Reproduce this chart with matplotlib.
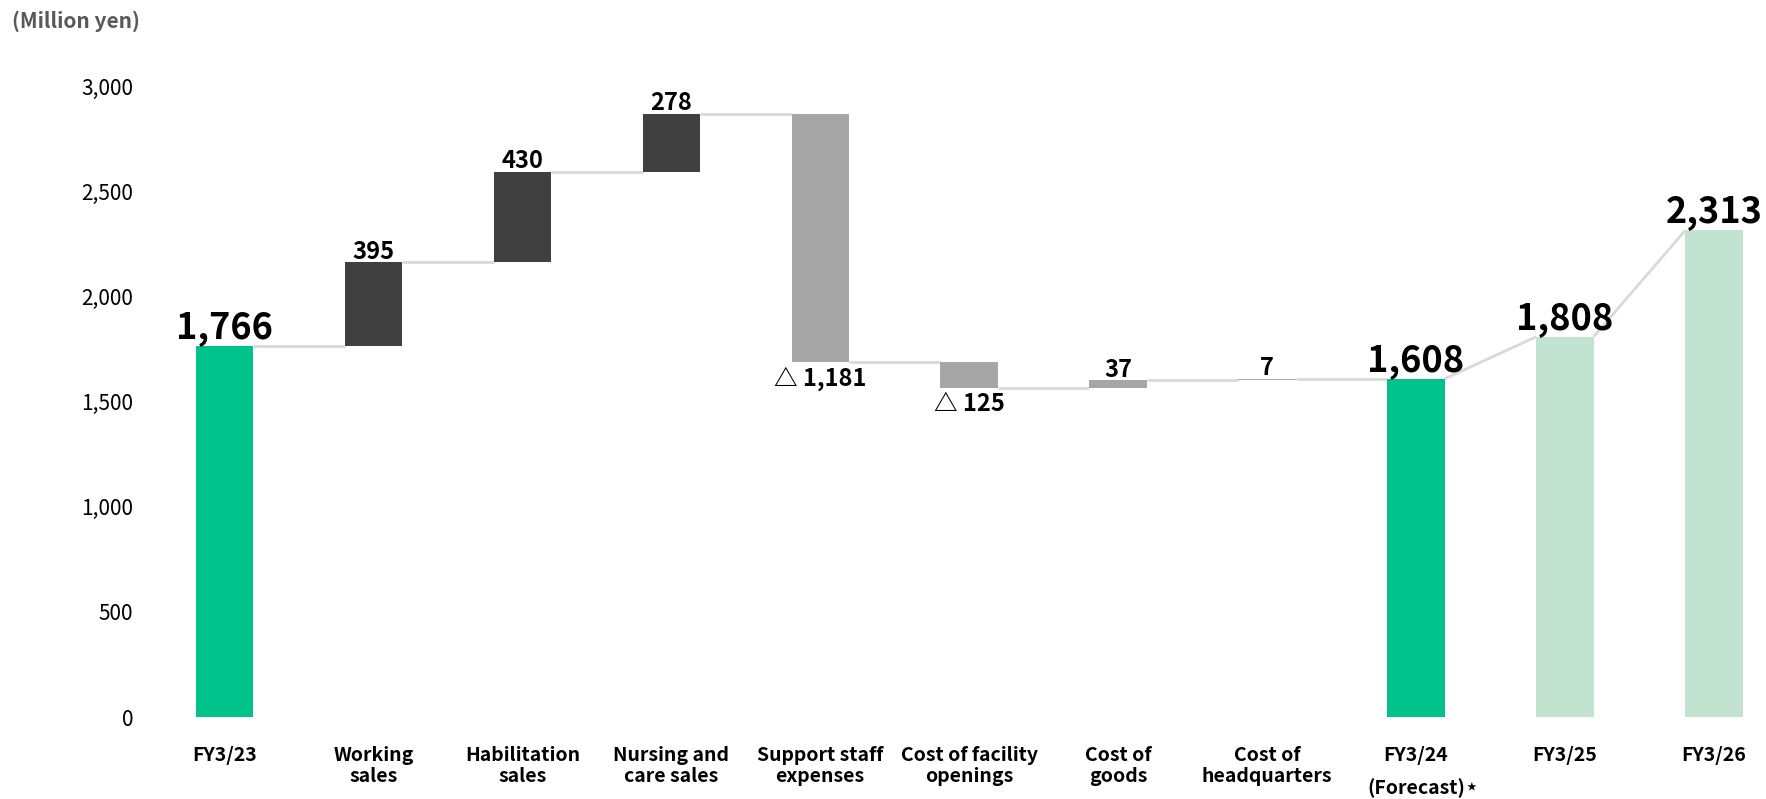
# coding: utf-8

import matplotlib
matplotlib.use('Agg')
import matplotlib.pyplot as plt
import matplotlib.transforms as mtransforms

plt.rcParams['font.family'] = ['Noto Sans CJK JP', 'DejaVu Sans']

categories = ['FY3/23', 'Working\nsales', 'Habilitation\nsales', 'Nursing and\ncare sales',
              'Support staff\nexpenses', 'Cost of facility\nopenings', 'Cost of\ngoods',
              'Cost of\nheadquarters', 'FY3/24', 'FY3/25', 'FY3/26']
values = [1766, 395, 430, 278, -1181, -125, 37, 7, 1608, 1808, 2313]
kinds = ['total', 'up', 'up', 'up', 'down', 'down', 'cost', 'cost', 'total', 'plan', 'plan']

GREEN = '#00c38c'
LIGHT_GREEN = '#c2e3d0'
DARK = '#404040'
GRAY = '#a6a6a6'
LINE = '#d9d9d9'
colors = {'total': GREEN, 'plan': LIGHT_GREEN, 'up': DARK, 'down': GRAY, 'cost': GRAY}


def main():
    fig = plt.figure(figsize=(17.66, 7.99), dpi=100)
    ax = fig.add_axes([150 / 1766, 82 / 799, 1 - 150 / 1766, 631 / 799])

    width = 0.385
    bottoms, tops = [], []
    running = 0
    for v, k in zip(values, kinds):
        if k in ('total', 'plan'):
            b, t = 0, v
            running = v
        else:
            b = running
            running += v
            t = running
        bottoms.append(min(b, t))
        tops.append(max(b, t))

    for i, (v, k) in enumerate(zip(values, kinds)):
        ax.bar(i, tops[i] - bottoms[i], bottom=bottoms[i], width=width,
               color=colors[k], zorder=3)

    # connectors between neighbouring bars
    for i in range(len(values) - 1):
        if kinds[i + 1] == 'plan':
            y0 = tops[i]
            y1 = tops[i + 1]
        else:
            y0 = tops[i] if (values[i] > 0 or kinds[i] == 'total') else bottoms[i]
            y1 = y0
        ax.plot([i + width / 2, i + 1 - width / 2], [y0, y1], color=LINE, lw=2, zorder=2,
                solid_capstyle='butt')

    # value labels
    for i, (v, k) in enumerate(zip(values, kinds)):
        if k in ('total', 'plan'):
            ax.annotate(f'{v:,}', (i, tops[i]), xytext=(0, 0), textcoords='offset points',
                        ha='center', va='bottom', fontsize=26, fontweight='bold')
        elif v < 0:
            ax.annotate(f'△ {abs(v):,}', (i, bottoms[i]), xytext=(0, -3), textcoords='offset points',
                        ha='center', va='top', fontsize=17, fontweight='bold')
        else:
            ax.annotate(f'{v:,}', (i, tops[i]), xytext=(0, -1), textcoords='offset points',
                        ha='center', va='bottom', fontsize=17, fontweight='bold')

    trans = mtransforms.blended_transform_factory(ax.transData, fig.transFigure)
    for i, c in enumerate(categories):
        ax.text(i, 1 - 746 / 799, c, transform=trans, ha='center', va='top',
                fontsize=14, fontweight='bold', linespacing=1.15)
    fc = ax.text(8, 1 - 778 / 799, '(Forecast)', transform=trans, ha='center', va='top',
                 fontsize=14, fontweight='bold')
    ax.annotate('★', xy=(1, 0.25), xycoords=fc, xytext=(1, 0), textcoords='offset points',
                ha='left', va='bottom', fontsize=7)

    fig.text(12 / 1766, 1 - 10 / 799, '(Million yen)', ha='left', va='top',
             fontsize=15, fontweight='bold', color='#595959')

    ax.set_xlim(-0.5, 10.35)
    ax.set_ylim(0, 3000)
    ax.set_yticks(range(0, 3001, 500))
    ax.set_yticklabels([f'{t:,}' for t in range(0, 3001, 500)], fontsize=15)
    ax.set_xticks([])
    ax.tick_params(axis='y', length=0, pad=12)
    for s in ax.spines.values():
        s.set_visible(False)

    fig.savefig('out.png', dpi=100)


if __name__ == '__main__':
    main()
